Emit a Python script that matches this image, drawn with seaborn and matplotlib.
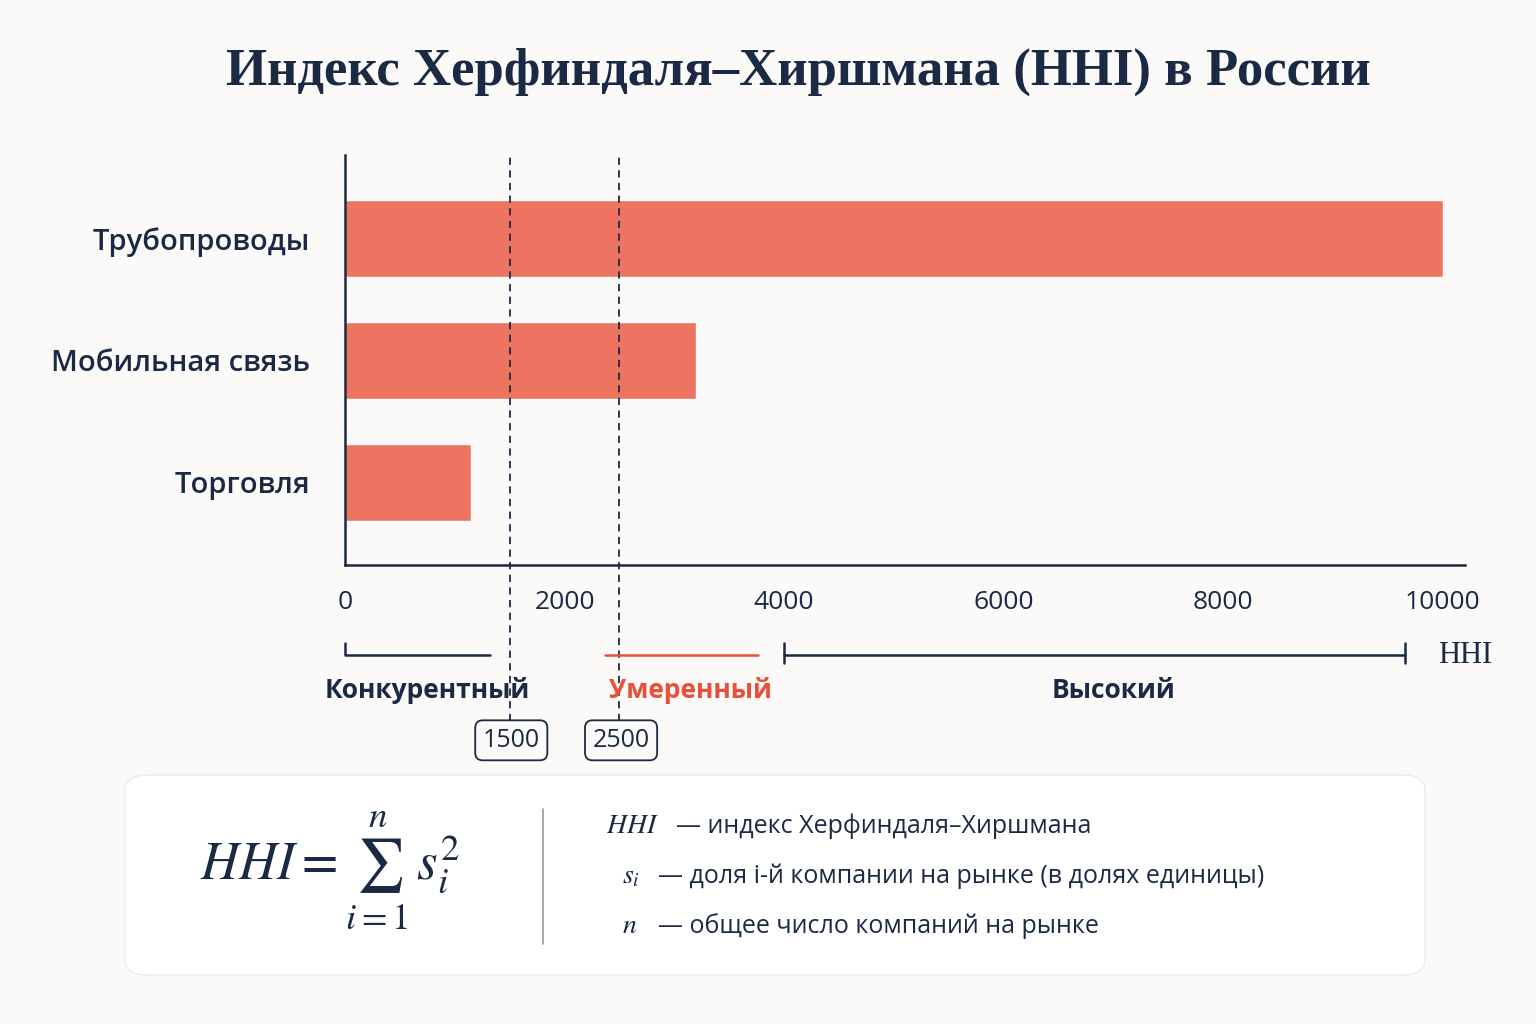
import matplotlib
matplotlib.use("Agg")
import matplotlib.pyplot as plt
import matplotlib.transforms as mtrans
from matplotlib.patches import FancyBboxPatch
import seaborn as sns
import pandas as pd

categories = ["Трубопроводы", "Мобильная связь", "Торговля"]
hhi_values = [10000, 3200, 1150]
thresholds = [1500, 2500]
x_ticks = [0, 2000, 4000, 6000, 8000, 10000]

navy = "#1B2A44"
bar_color = "#EE7462"
red = "#E8503A"
bg = "#FCFAF8"

sns.set_theme(style="white")
plt.rcParams["font.family"] = ["Open Sans", "DejaVu Sans"]
plt.rcParams["mathtext.fontset"] = "stix"

df = pd.DataFrame({"cat": categories, "hhi": hhi_values})

fig = plt.figure(figsize=(15.36, 10.24), dpi=100, facecolor=bg)
ax = fig.add_axes([0.2246, 0.448, 0.729, 0.4004])
ax.set_facecolor(bg)
sns.barplot(data=df, x="hhi", y="cat", color=bar_color, width=0.63, ax=ax, saturation=1)
ax.set_xlim(0, 10200)
ax.set_ylim(2.68, -0.68)
ax.set_xticks(x_ticks)
ax.set_xticklabels([str(t) for t in x_ticks], fontsize=19, color=navy)
ax.tick_params(axis="x", length=8, color=navy, direction="in", pad=18)
ax.tick_params(axis="y", length=0, labelsize=21, colors=navy, pad=25)
ax.set_xlabel("")
ax.set_ylabel("")
for s in ["top", "right"]:
    ax.spines[s].set_visible(False)
for s in ["left", "bottom"]:
    ax.spines[s].set_color(navy)
    ax.spines[s].set_linewidth(1.8)
for lbl in ax.get_yticklabels():
    lbl.set_fontweight("semibold")

tr = mtrans.blended_transform_factory(ax.transData, ax.transAxes)
for t in thresholds:
    ax.plot([t, t], [-0.38, 1.0], transform=tr, ls=(0, (4, 3)), lw=1.3, color=navy, clip_on=False)

yb = -0.2195
ax.plot([0, 0, 1320], [yb + 0.03, yb, yb], transform=tr, color=navy, lw=1.8, clip_on=False)
ax.plot([2370, 3760], [yb, yb], transform=tr, color=red, lw=1.8, clip_on=False)
ax.plot([4000, 4000], [yb - 0.02, yb + 0.03], transform=tr, color=navy, lw=1.8, clip_on=False)
ax.plot([9660, 9660], [yb - 0.02, yb + 0.03], transform=tr, color=navy, lw=1.8, clip_on=False)
ax.plot([4000, 9660], [yb, yb], transform=tr, color=navy, lw=1.8, clip_on=False)
ax.text(9960, yb, "HHI", transform=tr, fontsize=22, color=navy, family="Liberation Serif", va="center", ha="left")

yl = -0.305
ax.text(750, yl, "Конкурентный", transform=tr, fontsize=19, color=navy, fontweight="bold", ha="center", va="center")
ax.text(3150, yl, "Умеренный", transform=tr, fontsize=19, color=red, fontweight="bold", ha="center", va="center")
ax.text(7000, yl, "Высокий", transform=tr, fontsize=19, color=navy, fontweight="bold", ha="center", va="center")
for t in thresholds:
    ax.text(t + 15, -0.427, str(t), transform=tr, fontsize=18, color=navy, ha="center", va="center",
            bbox=dict(boxstyle="round,pad=0.3,rounding_size=0.3", fc=bg, ec=navy, lw=1.3))

fig.text(0.52, 0.93, "Индекс Херфиндаля–Хиршмана (HHI) в России", ha="center", va="center",
         fontsize=38, fontweight="bold", color=navy, family="Liberation Serif")

box = FancyBboxPatch((125 / 1536, 49 / 1024), 1300 / 1536, 200 / 1024,
                     boxstyle="round,pad=0,rounding_size=0.015", transform=fig.transFigure,
                     fc="white", ec="#EEEBE8", lw=1)
fig.patches.append(box)
fig.text(200 / 1536, 0.15, r"$HHI = \sum_{i=1}^{n}\, s_i^2$", fontsize=38, color=navy, va="center")
fig.add_artist(plt.Line2D([543 / 1536] * 2, [80 / 1024, 215 / 1024], color="#9A9A9A", lw=1.2))
rows = [(606, 826, r"$HHI$", "— индекс Херфиндаля–Хиршмана"),
        (622, 876, r"$s_i$", "— доля i-й компании на рынке (в долях единицы)"),
        (622, 926, r"$n$", "— общее число компаний на рынке")]
for x, y, sym, txt in rows:
    fig.text(x / 1536, 1 - y / 1024, sym, fontsize=20, color=navy, va="center")
    fig.text((x + (70 if sym == r"$HHI$" else 36)) / 1536, 1 - y / 1024, txt, fontsize=18, color=navy, va="center")

fig.savefig("out.png", dpi=100, facecolor=bg)
